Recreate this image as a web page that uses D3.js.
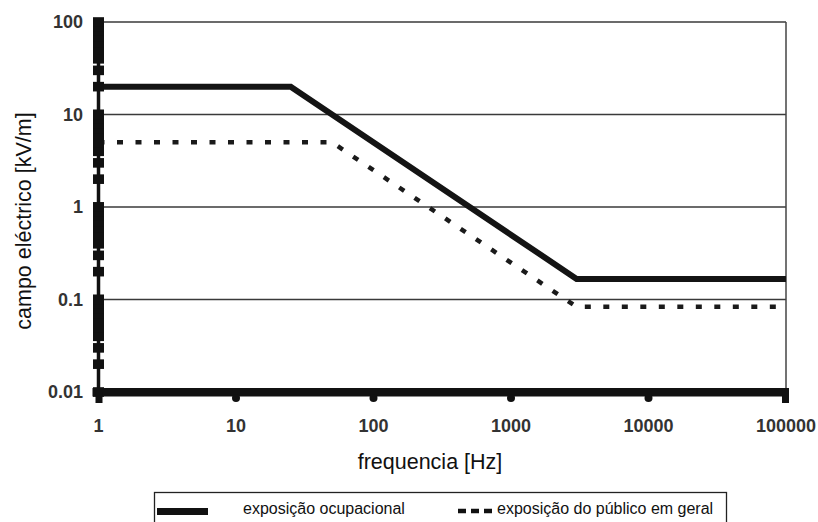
<!DOCTYPE html>
<html>
<head>
<meta charset="utf-8">
<script src="https://cdn.jsdelivr.net/npm/d3@7"></script>
<style>
  body { margin: 0; background: #fff; }
  svg { display: block; font-family: "Liberation Sans", Arial, sans-serif; }
</style>
</head>
<body>
<div id="chart"></div>
<script>
// Chart size
var width = 818;
var height = 522;

// Data
var freqOcupacional = [1, 25, 3000, 100000];
var campoOcupacional = [20, 20, 0.167, 0.167];
var freqPublico = [1, 50, 3000, 100000];
var campoPublico = [5, 5, 0.0833, 0.0833];
var xTicks = [1, 10, 100, 1000, 10000, 100000];
var yTicks = [0.01, 0.1, 1, 10, 100];
var legendLabels = ["exposição ocupacional", "exposição do público em geral"];

// Plot area (note: "top" is reserved on window, so use plot* names)
var plotLeft = 98.5, plotRight = 786, plotTop = 22, plotBottom = 392;

var svg = d3.select("#chart").append("svg")
    .attr("width", width)
    .attr("height", height);

var x = d3.scaleLog().domain([1, 100000]).range([plotLeft, plotRight]);
var y = d3.scaleLog().domain([0.01, 100]).range([plotBottom, plotTop]);

// Gridlines (skip the bottom one, the thick axis covers it)
svg.selectAll(".grid")
    .data(yTicks.filter(function(d) { return d > 0.01; }))
    .enter().append("line")
    .attr("class", "grid")
    .attr("x1", plotLeft)
    .attr("x2", plotRight)
    .attr("y1", function(d) { return y(d); })
    .attr("y2", function(d) { return y(d); })
    .style("stroke", "#3a3a3a")
    .style("stroke-width", 1.3);

// Right border
svg.append("line")
    .attr("x1", plotRight).attr("x2", plotRight)
    .attr("y1", plotTop).attr("y2", plotBottom)
    .style("stroke", "#444")
    .style("stroke-width", 1.5);

// Lines
var line = d3.line()
    .x(function(d) { return x(d[0]); })
    .y(function(d) { return y(d[1]); });

svg.append("path")
    .datum(d3.zip(freqPublico, campoPublico))
    .attr("d", line)
    .style("fill", "none")
    .style("stroke", "#1a1a1a")
    .style("stroke-width", 4.5)
    .style("stroke-dasharray", "6,12.5");

svg.append("path")
    .datum(d3.zip(freqOcupacional, campoOcupacional))
    .attr("d", line)
    .style("fill", "none")
    .style("stroke", "#141414")
    .style("stroke-width", 6)
    .style("stroke-linejoin", "miter");

// Left axis: thick line with blocky minor ticks
var minor = [];
[0.01, 0.1, 1, 10].forEach(function(dec) {
    for (var k = 1; k <= 10; k++) minor.push(dec * k);
});
svg.append("line")
    .attr("x1", plotLeft).attr("x2", plotLeft)
    .attr("y1", plotTop - 2).attr("y2", plotBottom + 6)
    .style("stroke", "#111")
    .style("stroke-width", 3.5);
svg.selectAll(".ytick")
    .data(minor)
    .enter().append("rect")
    .attr("class", "ytick")
    .attr("x", plotLeft - 5.5)
    .attr("y", function(d) { return y(d) - 4.8; })
    .attr("width", 11)
    .attr("height", 9.6)
    .style("fill", "#111");

// Bottom axis: thick bar with small bumps at decades
svg.append("rect")
    .attr("x", plotLeft - 6)
    .attr("y", plotBottom - 4)
    .attr("width", plotRight - plotLeft + 9)
    .attr("height", 8.5)
    .style("fill", "#111");
svg.selectAll(".xtick")
    .data(xTicks.slice(1, -1))
    .enter().append("circle")
    .attr("class", "xtick")
    .attr("cx", function(d) { return x(d); })
    .attr("cy", plotBottom + 6)
    .attr("r", 4)
    .style("fill", "#111");
svg.append("rect")
    .attr("x", plotLeft - 3).attr("y", plotBottom).attr("width", 7).attr("height", 11)
    .style("fill", "#111");
svg.append("rect")
    .attr("x", plotRight - 4).attr("y", plotBottom - 4).attr("width", 7).attr("height", 15)
    .style("fill", "#111");

// Tick labels
svg.selectAll(".ylab")
    .data(yTicks)
    .enter().append("text")
    .attr("class", "ylab")
    .attr("x", 83)
    .attr("y", function(d) { return y(d); })
    .attr("dy", "0.36em")
    .attr("text-anchor", "end")
    .style("font-size", "18px")
    .style("font-weight", "bold")
    .style("fill", "#333")
    .text(function(d) { return String(d); });

svg.selectAll(".xlab")
    .data(xTicks)
    .enter().append("text")
    .attr("class", "xlab")
    .attr("x", function(d) { return x(d); })
    .attr("y", 432)
    .attr("text-anchor", "middle")
    .style("font-size", "18px")
    .style("font-weight", "bold")
    .style("fill", "#333")
    .text(function(d) { return String(d); });

// Axis titles
svg.append("text")
    .attr("x", 430)
    .attr("y", 469)
    .attr("text-anchor", "middle")
    .style("font-size", "21.5px")
    .style("fill", "#111")
    .text("frequencia [Hz]");

svg.append("text")
    .attr("transform", "translate(31,221) rotate(-90)")
    .attr("text-anchor", "middle")
    .style("font-size", "21.5px")
    .style("fill", "#111")
    .text("campo eléctrico [kV/m]");

// Legend
var legend = svg.append("g");
legend.append("rect")
    .attr("x", 154.5).attr("y", 492.5)
    .attr("width", 572).attr("height", 40)
    .style("fill", "none")
    .style("stroke", "#222")
    .style("stroke-width", 1.3);
legend.append("line")
    .attr("x1", 157).attr("x2", 208)
    .attr("y1", 511.5).attr("y2", 511.5)
    .style("stroke", "#111")
    .style("stroke-width", 7);
legend.append("line")
    .attr("x1", 458).attr("x2", 492)
    .attr("y1", 511).attr("y2", 511)
    .style("stroke", "#111")
    .style("stroke-width", 4.5)
    .style("stroke-dasharray", "8,5");
legend.selectAll(".leglab")
    .data(legendLabels)
    .enter().append("text")
    .attr("class", "leglab")
    .attr("x", function(d, i) { return i === 0 ? 243 : 497; })
    .attr("y", 514)
    .style("font-size", "16px")
    .style("fill", "#111")
    .text(function(d) { return d; });
</script>
</body>
</html>
